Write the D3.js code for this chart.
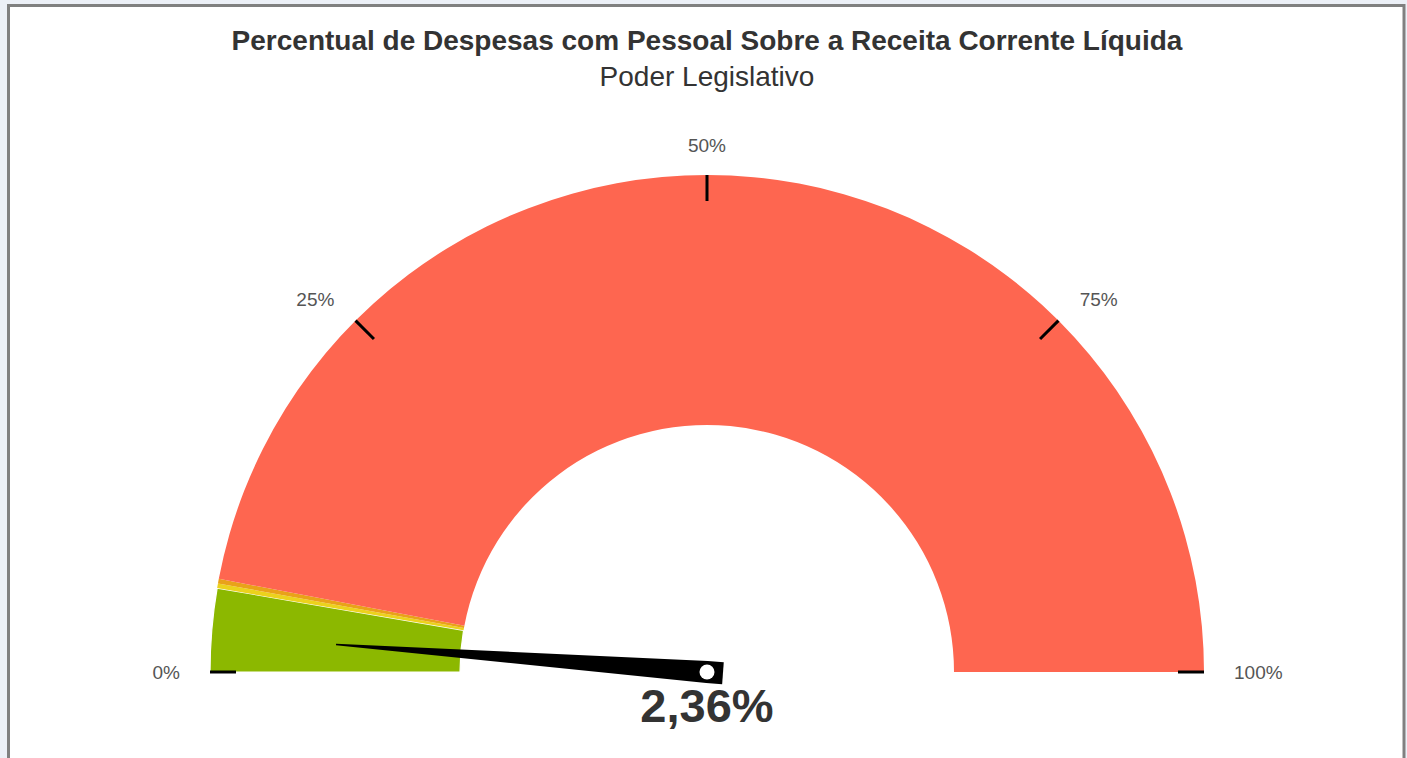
<!DOCTYPE html>
<html><head><meta charset="utf-8">
<script src="https://cdn.jsdelivr.net/npm/d3@7"></script>
<style>
html,body{margin:0;padding:0;background:#ecf0f7;overflow:hidden;}
svg{display:block;}
</style></head>
<body>
<svg id="chart" width="1407" height="758"></svg>
<script>
const title = "Percentual de Despesas com Pessoal Sobre a Receita Corrente Líquida";
const subtitle = "Poder Legislativo";
const bandFrom = [0, 5.4, 5.7, 6];
const bandTo = [5.4, 5.7, 6, 100];
const bandColors = ["#8cb800", "#ecd21c", "#e9a219", "#fe6650"];
const tickValues = [0, 25, 50, 75, 100];
const tickLabels = ["0%", "25%", "50%", "75%", "100%"];
const value = 2.36;
const valueLabel = "2,36%";

const FONT = "Liberation Sans, Arial, Helvetica, sans-serif";
const svg = d3.select("#chart");
svg.append("rect").attr("x", 8.5).attr("y", 5.5).attr("width", 1395.5).attr("height", 800)
  .attr("fill", "#fff").attr("stroke", "#808080").attr("stroke-width", 3);

const cx = 707, cy = 672, R = 497, r = 247;
const ang = d3.scaleLinear().domain([0, 100]).range([-Math.PI / 2, Math.PI / 2]);
const g = svg.append("g").attr("transform", `translate(${cx},${cy})`);

const arc = d3.arc().innerRadius(r).outerRadius(R);
g.selectAll("path.band").data(bandFrom.map((f, i) => ({f, t: bandTo[i], c: bandColors[i]})))
  .enter().append("path").attr("class", "band")
  .attr("d", d => arc({startAngle: ang(d.f), endAngle: ang(d.t)}))
  .attr("fill", d => d.c)
  .attr("stroke", (d, i) => i === 0 ? "#ffffff" : "none")
  .attr("stroke-width", 1.2);

// ticks
const LR = 527;
tickValues.forEach((v, i) => {
  const a = ang(v);
  const sx = Math.sin(a), sy = -Math.cos(a);
  g.append("line")
    .attr("x1", sx * R).attr("y1", sy * R)
    .attr("x2", sx * (R - 26)).attr("y2", sy * (R - 26))
    .attr("stroke", "#000").attr("stroke-width", 3);
  const anchor = Math.abs(sx) < 0.01 ? "middle" : (sx < 0 ? "end" : "start");
  g.append("text")
    .attr("x", sx * LR).attr("y", sy * LR)
    .attr("text-anchor", anchor).attr("dominant-baseline", "central")
    .attr("font-family", FONT)
    .attr("font-size", 19).attr("fill", "#555")
    .text(tickLabels[i]);
});

// needle (built along +x, rotated to point at the value)
const L = 372;
const needle = g.append("g")
  .attr("transform", `rotate(${180 + (ang(value) + Math.PI / 2) * 180 / Math.PI})`);
needle.append("path")
  .attr("d", `M${-16},-11 L0,-11 L${L},-0.8 L${L},0.8 L0,11 L${-16},11 Z`)
  .attr("fill", "#000");
g.append("circle").attr("cx", 0).attr("cy", 0).attr("r", 7.5).attr("fill", "#fff");

g.append("text").attr("x", 0).attr("y", 50)
  .attr("text-anchor", "middle")
  .attr("font-family", FONT)
  .attr("font-size", 47).attr("font-weight", "bold").attr("fill", "#333")
  .text(valueLabel);

svg.append("text").attr("x", 707).attr("y", 50)
  .attr("text-anchor", "middle")
  .attr("font-family", FONT)
  .attr("font-size", 28).attr("font-weight", "bold").attr("fill", "#333")
  .text(title);
svg.append("text").attr("x", 707).attr("y", 86)
  .attr("text-anchor", "middle")
  .attr("font-family", FONT)
  .attr("font-size", 28).attr("fill", "#333")
  .text(subtitle);
</script>
</body></html>
